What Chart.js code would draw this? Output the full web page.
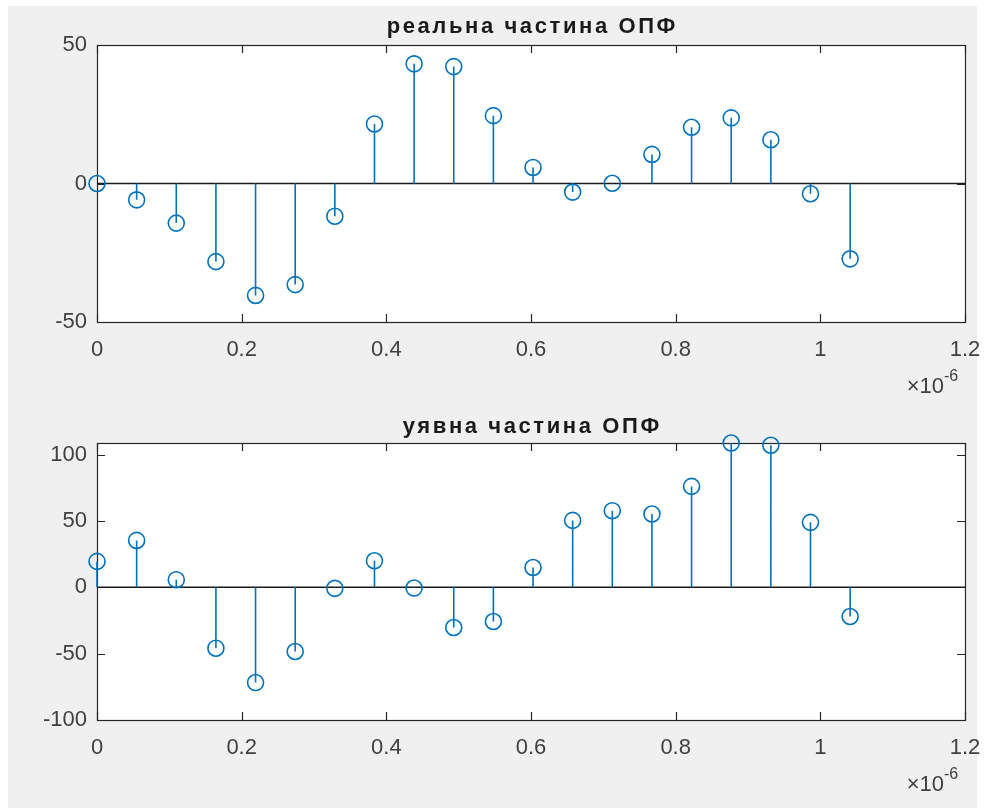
<!DOCTYPE html>
<html>
<head>
<meta charset="utf-8">
<title>ОПФ</title>
<script src="https://cdn.jsdelivr.net/npm/chart.js@4.4.1/dist/chart.umd.min.js"></script>
<style>
  html, body { margin: 0; background: #fff; overflow: hidden; }
  #fig { position: absolute; left: 8px; top: 6px; width: 969px; height: 802px; background: #f0f0f0; }
  canvas { position: absolute; left: 0; }
</style>
</head>
<body>
<div id="fig"></div>
<canvas id="realChart" width="989" height="400" style="top:0"></canvas>
<canvas id="imagChart" width="989" height="408" style="top:400px"></canvas>
<script>
// frequency axis, in units of 1e-6
const freq = [0, 0.0548, 0.1096, 0.1644, 0.2192, 0.274, 0.3288, 0.3836, 0.4384, 0.4932,
  0.548, 0.6028, 0.6576, 0.7124, 0.7672, 0.822, 0.8768, 0.9316, 0.9864, 1.0412];
const realPart = [0, -5.9, -14.3, -28.2, -40.4, -36.5, -11.8, 21.5, 43.2, 42.2,
  24.5, 5.8, -3.1, 0.1, 10.5, 20.3, 23.7, 15.8, -3.7, -27.2];
const imagPart = [19.5, 35.3, 5.7, -45.9, -71.8, -48.4, -0.8, 20, -0.6, -30.3,
  -25.8, 14.9, 50.4, 57.7, 55.2, 76, 108.7, 107, 48.9, -22];

const xTicks = [0, 0.2, 0.4, 0.6, 0.8, 1, 1.2];
const realTicks = [-50, 0, 50];
const imagTicks = [-100, -50, 0, 50, 100];

const FONT = '"Liberation Sans", Arial, Helvetica, sans-serif';
const BLUE = '#0072bd';
const AXIS = '#262626';
const LABEL = '#404040';

// box, inward ticks, zero baseline, title and the x10^-6 exponent
const matlabAxes = {
  id: 'matlabAxes',
  beforeDraw(chart) {
    const { ctx, chartArea: a } = chart;
    ctx.save();
    ctx.fillStyle = '#fff';
    ctx.fillRect(a.left, a.top, a.right - a.left, a.bottom - a.top);
    ctx.restore();
  },
  beforeDatasetsDraw(chart, args, opts) {
    const { ctx, chartArea: a, scales } = chart;
    const tl = 8;
    ctx.save();
    ctx.strokeStyle = AXIS;
    ctx.lineWidth = 1.2;
    ctx.beginPath();
    xTicks.forEach(v => {
      const x = Math.round(scales.x.getPixelForValue(v)) + 0.5;
      ctx.moveTo(x, a.bottom); ctx.lineTo(x, a.bottom - tl);
      ctx.moveTo(x, a.top); ctx.lineTo(x, a.top + tl);
    });
    opts.yTicks.forEach(v => {
      const y = Math.round(scales.y.getPixelForValue(v)) + 0.5;
      ctx.moveTo(a.left, y); ctx.lineTo(a.left + tl, y);
      ctx.moveTo(a.right, y); ctx.lineTo(a.right - tl, y);
    });
    ctx.stroke();
    ctx.strokeRect(Math.round(a.left) + 0.5, Math.round(a.top) + 0.5,
      Math.round(a.right - a.left), Math.round(a.bottom - a.top));

    // stem baseline at zero
    const y0 = scales.y.getPixelForValue(0);
    ctx.strokeStyle = '#1a1a1a';
    ctx.lineWidth = 1.5;
    ctx.beginPath();
    ctx.moveTo(a.left, y0);
    ctx.lineTo(a.right, y0);
    ctx.stroke();
    ctx.restore();
  },
  afterDraw(chart, args, opts) {
    const { ctx, chartArea: a } = chart;
    ctx.save();
    ctx.fillStyle = '#1a1a1a';
    ctx.font = 'bold 22px ' + FONT;
    ctx.letterSpacing = '2.6px';
    ctx.textAlign = 'center';
    ctx.textBaseline = 'alphabetic';
    ctx.fillText(opts.title, (a.left + a.right) / 2 + 1.3, a.top - opts.titleGap);
    ctx.letterSpacing = '0px';

    ctx.fillStyle = LABEL;
    ctx.textAlign = 'right';
    ctx.font = '22px ' + FONT;
    ctx.fillText('\u00d710', a.right - 21, a.bottom + 71);
    ctx.textAlign = 'left';
    ctx.font = '16px ' + FONT;
    ctx.fillText('-6', a.right - 21, a.bottom + 59);
    ctx.restore();
  }
};

function fmt(v) {
  return String(parseFloat(v.toFixed(2)));
}

function stemChart(id, values, yTicks, yMin, yMax, title, titleGap, padTop, xHeight) {
  const ctx = document.getElementById(id).getContext('2d');

  // stems: vertical segments from 0 to each value, broken by gaps
  const stems = [];
  freq.forEach((f, i) => {
    stems.push({ x: f, y: 0 }, { x: f, y: values[i] }, { x: f, y: null });
  });
  const heads = freq.map((f, i) => ({ x: f, y: values[i] }));

  return new Chart(ctx, {
    type: 'scatter',
    data: {
      datasets: [
        {
          data: stems,
          showLine: true,
          spanGaps: false,
          borderColor: BLUE,
          borderWidth: 1.6,
          pointRadius: 0,
          clip: false,
        },
        {
          data: heads,
          pointStyle: 'circle',
          pointRadius: 8,
          borderColor: BLUE,
          borderWidth: 1.6,
          backgroundColor: 'rgba(0,0,0,0)',
          clip: false,
        },
      ],
    },
    options: {
      responsive: false,
      animation: false,
      events: [],
      layout: { padding: { top: padTop, right: 24, left: 0, bottom: 0 } },
      plugins: {
        legend: { display: false },
        tooltip: { enabled: false },
        matlabAxes: { title: title, titleGap: titleGap, yTicks: yTicks },
      },
      scales: {
        x: {
          type: 'linear',
          min: 0,
          max: 1.2,
          offset: false,
          grid: { display: false, drawTicks: false },
          border: { display: false },
          afterBuildTicks: (scale) => {
            scale.ticks = xTicks.map(v => ({ value: v }));
          },
          afterFit: (scale) => {
            scale.height = xHeight;
            scale.paddingLeft = 0;
            scale.paddingRight = 0;
          },
          ticks: {
            autoSkip: false,
            maxRotation: 0,
            padding: 15,
            color: LABEL,
            font: { family: FONT, size: 22 },
            callback: (v) => fmt(v),
          },
        },
        y: {
          type: 'linear',
          min: yMin,
          max: yMax,
          grid: { display: false, drawTicks: false },
          border: { display: false },
          afterBuildTicks: (scale) => {
            scale.ticks = yTicks.map(v => ({ value: v }));
          },
          afterFit: (scale) => {
            scale.width = 97;
            scale.paddingTop = 0;
            scale.paddingBottom = 0;
          },
          ticks: {
            padding: 10,
            color: LABEL,
            font: { family: FONT, size: 22 },
            callback: (v) => fmt(v),
          },
        },
      },
    },
    plugins: [matlabAxes],
  });
}

stemChart('realChart', realPart, realTicks, -50, 50, 'реальна частина ОПФ', 12.5, 45, 78);
stemChart('imagChart', imagPart, imagTicks, -100, 108.7, 'уявна частина ОПФ', 10, 43, 88);
</script>
</body>
</html>
